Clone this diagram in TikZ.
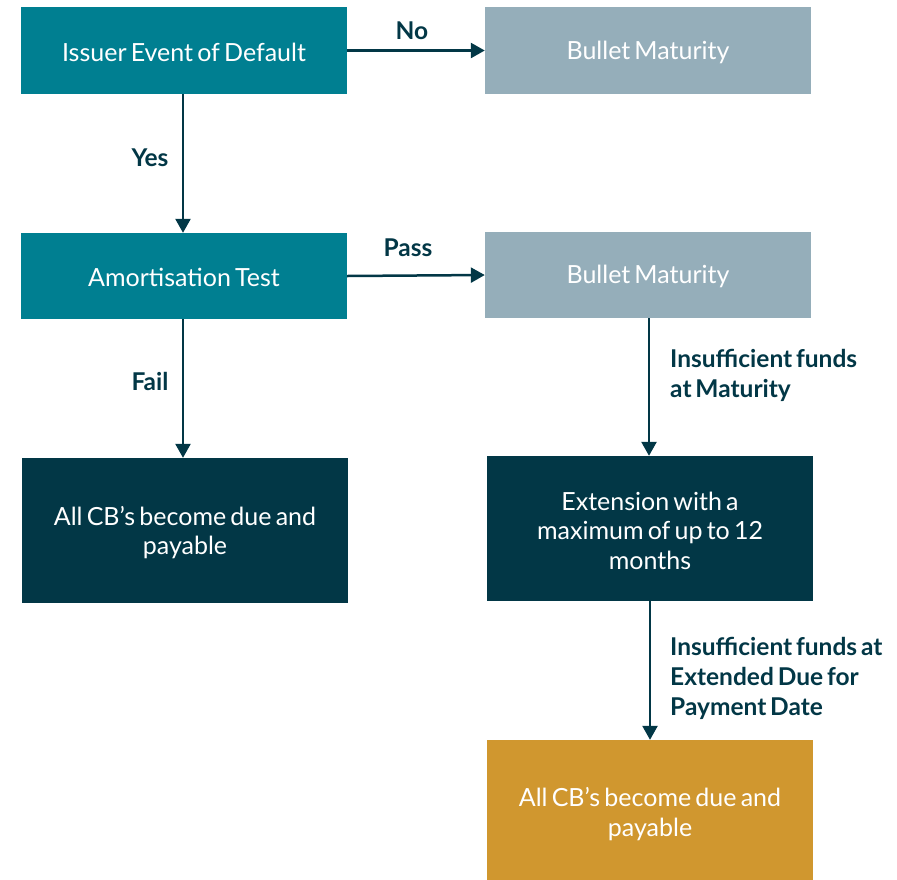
\documentclass[tikz,border=0pt]{standalone}
\usepackage{fontspec}
\setmainfont{Lato}[WordSpace=0.65]
\usetikzlibrary{arrows.meta}
\definecolor{teal}{HTML}{007F91}
\definecolor{greyblue}{HTML}{95AEBA}
\definecolor{darkblue}{HTML}{023746}
\definecolor{gold}{HTML}{D0972F}
\newcommand{\boxtext}[2]{\raisebox{-#1}[\dimexpr\height+#1\relax][\dimexpr\depth-#1\relax]{\parbox{316pt}{\centering #2}}}
\tikzset{
  box/.style={rectangle, minimum width=326pt, inner sep=0pt, text=white, align=center,
    font=\fontsize{25}{29.5}\selectfont},
  conn/.style={draw=darkblue, line width=2.5pt, -{Triangle[length=14pt,width=15pt]}},
  lbl/.style={text=darkblue, font=\bfseries\fontsize{24.5}{30}\selectfont, inner sep=0pt},
}
\begin{document}
\begin{tikzpicture}[x=1pt,y=-1pt]
\useasboundingbox (0,0) rectangle (897,879);
\begin{scope}
\clip (0,0) rectangle (897,879);
\node[box, fill=teal, minimum height=87pt] (A) at (184,50.5) {\boxtext{0.75pt}{Issuer Event of Default}};
\node[box, fill=greyblue, minimum height=87pt] (B) at (648,50.5) {\boxtext{0.75pt}{Bullet Maturity}};
\node[box, fill=teal, minimum height=86pt] (C) at (184,276) {\boxtext{0.75pt}{Amortisation Test}};
\node[box, fill=greyblue, minimum height=86pt] (D) at (648,275) {\boxtext{0.75pt}{Bullet Maturity}};
\node[box, fill=darkblue, minimum height=145pt] (E) at (185,530.5) {\boxtext{1pt}{All CB’s become due and\\ payable}};
\node[box, fill=darkblue, minimum height=145pt] (F) at (650,528.5) {\boxtext{1pt}{Extension with a\\ maximum of up to 12\\ months}};
\node[box, fill=gold, minimum height=140pt] (G) at (650,810) {\boxtext{2pt}{All CB’s become due and\\ payable}};
\end{scope}
\draw[conn] (A.east) -- (B.west);
\draw[conn] (A.south -| 183,0) -- (C.north -| 183,0);
\draw[conn] (C.east) -- (D.west);
\draw[conn] (C.south -| 183,0) -- (E.north -| 183,0);
\draw[conn] (D.south -| 649,0) -- (F.north -| 649,0);
\draw[conn] (F.south -| 650,0) -- (G.north -| 650,0);
\node[lbl] (lno) at (412,31) {No};
\node[lbl] (lyes) at (150,158) {Yes};
\node[lbl] (lpass) at (408,248) {Pass};
\node[lbl] (lfail) at (150,381) {Fail};
\node[lbl, anchor=west, align=left] (l1) at (670,375.5) {Insufficient funds\\at Maturity};
\node[lbl, anchor=west, align=left] (l2) at (670,678) {Insufficient funds at\\Extended Due for\\Payment Date};
\end{tikzpicture}
\end{document}
